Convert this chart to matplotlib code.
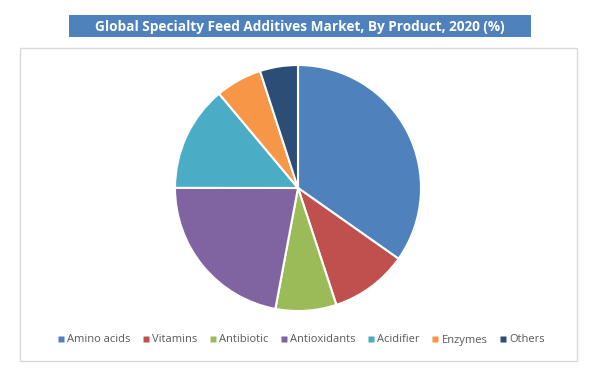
import matplotlib.pyplot as plt
from matplotlib.patches import Rectangle
from matplotlib.lines import Line2D

categories = ['Amino acids', 'Vitamins', 'Antibiotic', 'Antioxidants', 'Acidifier', 'Enzymes', 'Others']
shares = [34.8, 10.2, 8.0, 22.1, 13.9, 6.1, 5.0]
colors = ['#4F81BD', '#C0504D', '#9BBB59', '#8064A2', '#4BACC6', '#F79646', '#2C4D75']
title = 'Global Specialty Feed Additives Market, By Product, 2020 (%)'

W, H = 598, 383
fig = plt.figure(figsize=(W / 100, H / 100), dpi=100)
fig.patch.set_facecolor('white')

# light grey frame round the plot area
fig.add_artist(Rectangle((20 / W, 1 - 361 / H), 557 / W, 313 / H,
                         transform=fig.transFigure, fill=False,
                         edgecolor='#D9D9D9', linewidth=1))

# title band
fig.add_artist(Rectangle((69 / W, 1 - 37 / H), 462 / W, 22 / H,
                         transform=fig.transFigure, facecolor='#4F81BD',
                         edgecolor='none'))
fig.text(300 / W, 1 - 26.5 / H, title, ha='center', va='center',
         color='white', fontsize=9.8, fontweight='bold', family='Open Sans')

# pie: centre (298, 188), radius 123 px
r = 123
ax = fig.add_axes([(298 - r) / W, 1 - (188 + r) / H, 2 * r / W, 2 * r / H])
ax.pie(shares, colors=colors, startangle=90, counterclock=False,
       wedgeprops=dict(edgecolor='white', linewidth=1.5))
ax.set_aspect('equal')
ax.set_xlim(-1, 1)
ax.set_ylim(-1, 1)
ax.axis('off')

handles = [Line2D([], [], marker='s', linestyle='none', markersize=4.5,
                  markerfacecolor=c, markeredgecolor='none') for c in colors]
fig.legend(handles, categories, loc='center', bbox_to_anchor=(300 / W, 1 - 340 / H),
           ncol=len(categories), frameon=False,
           handletextpad=0.05, columnspacing=0.9, handlelength=1.0,
           prop=dict(family='Open Sans', size=8))
for t in fig.legends[0].get_texts():
    t.set_color('#595959')

fig.savefig('out.png', dpi=100)
